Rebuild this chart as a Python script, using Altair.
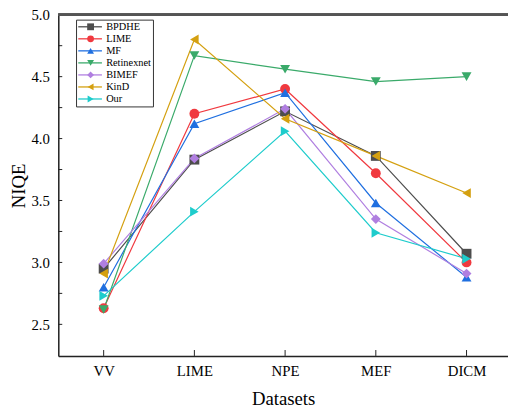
import json
import altair as alt
import pandas as pd

datasets = ["VV", "LIME", "NPE", "MEF", "DICM"]
methods = ["BPDHE", "LIME", "MF", "Retinexnet", "BIMEF", "KinD", "Our"]
bpdhe = [2.95, 3.83, 4.22, 3.86, 3.07]
lime = [2.63, 4.20, 4.40, 3.72, 3.00]
mf = [2.80, 4.12, 4.37, 3.48, 2.88]
retinexnet = [2.62, 4.67, 4.56, 4.46, 4.50]
bimef = [2.99, 3.84, 4.24, 3.35, 2.91]
kind = [2.91, 4.80, 4.16, 3.86, 3.56]
our = [2.73, 3.41, 4.06, 3.24, 3.03]

colors = ["#4d4d4d", "#f0393f", "#1f6fe0", "#3aaa6a", "#b07fe0", "#d4a010", "#1ecccc"]
shapes = ["square", "circle", "triangle-up", "triangle-down", "diamond", "triangle-left", "triangle-right"]
y_ticks = [2.5, 2.75, 3.0, 3.25, 3.5, 3.75, 4.0, 4.25, 4.5, 4.75, 5.0]
y_labels = [2.5, 3.0, 3.5, 4.0, 4.5, 5.0]

series = [bpdhe, lime, mf, retinexnet, bimef, kind, our]
rows = []
for m, vals in zip(methods, series):
    for i, (d, v) in enumerate(zip(datasets, vals)):
        rows.append({"method": m, "idx": i, "dataset": d, "niqe": v})
df = pd.DataFrame(rows)

W, H = 456, 346
FONT = "Liberation Serif"
label_expr = json.dumps(datasets) + "[datum.value]"

xscale = alt.Scale(domain=[-0.5, 4.457], nice=False, zero=False)
yscale = alt.Scale(domain=[2.245, 5.0], nice=False, zero=False)

xaxis = alt.Axis(values=list(range(len(datasets))), labelExpr=label_expr, ticks=False,
                 grid=False, labelFont=FONT, labelFontSize=15, labelColor="#000",
                 labelPadding=8, title="Datasets", titleFont=FONT, titleFontSize=19,
                 titleFontWeight="normal", titleColor="#000", titlePadding=11,
                 domainColor="#222", domainWidth=1.5)
yaxis = alt.Axis(values=y_labels, format=".1f", ticks=False, grid=False, labelFont=FONT,
                 labelFontSize=15, labelColor="#000", labelPadding=9, title="NIQE",
                 titleFont=FONT, titleFontSize=19, titleFontWeight="normal",
                 titleColor="#000", titlePadding=3, domainColor="#222", domainWidth=1.5)

common_leg = dict(title=None, orient="none", legendX=18, legendY=5, padding=2,
                  rowPadding=1.2, labelFont=FONT, labelFontSize=10.5, labelColor="#000")

line_legend = alt.Legend(symbolType="M-3,0H3", symbolSize=64, symbolStrokeWidth=1.3,
                         symbolOffset=7, labelOffset=11, strokeColor="#333", **common_leg)
point_legend = alt.Legend(symbolSize=48, symbolOffset=7.5, labelOffset=11, labelOpacity=0,
                          symbolStrokeWidth=0, **common_leg)

X = alt.X("idx:Q", scale=xscale, axis=xaxis)
Y = alt.Y("niqe:Q", scale=yscale, axis=yaxis)

lines = alt.Chart(df).mark_line(strokeWidth=1.2).encode(
    x=X, y=Y,
    color=alt.Color("method:N", scale=alt.Scale(domain=methods, range=colors), legend=line_legend),
    detail="method:N",
)

points = alt.Chart(df).mark_point(filled=True, size=100, opacity=1).encode(
    x=X, y=Y,
    color=alt.Color("method:N", scale=alt.Scale(domain=methods, range=colors), legend=point_legend),
    shape=alt.Shape("method:N", scale=alt.Scale(domain=methods, range=shapes), legend=point_legend),
)

ytick_df = pd.DataFrame({"niqe": y_ticks})
yticks = alt.Chart(ytick_df).mark_rule(color="#222", strokeWidth=1).encode(
    y=Y, x=alt.value(0), x2=alt.value(4),
)
xtick_df = pd.DataFrame({"idx": list(range(len(datasets)))})
xticks = alt.Chart(xtick_df).mark_rule(color="#222", strokeWidth=1).encode(
    x=X, y=alt.value(H), y2=alt.value(H - 6),
)
topline = alt.Chart(ytick_df).mark_rule(color="#555", strokeWidth=2).encode(
    x=alt.value(0), x2=alt.value(W), y=alt.value(0),
)

chart = alt.layer(lines, points, yticks, xticks, topline).resolve_scale(
    color="independent", shape="independent"
).properties(
    width=W, height=H,
    padding={"left": 51, "top": 4, "right": 0, "bottom": 51},
    autosize=alt.AutoSizeParams(type="none"),
).configure_view(stroke=None).configure(background="white", font=FONT)

chart.save("out.html", embed_options={"renderer": "svg", "actions": False})
